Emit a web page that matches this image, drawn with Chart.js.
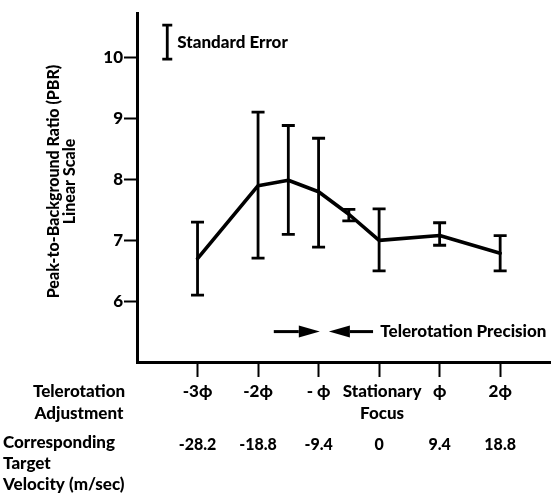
<!DOCTYPE html>
<html>
<head>
<meta charset="utf-8">
<script src="https://cdn.jsdelivr.net/npm/chart.js@4.4.1/dist/chart.umd.min.js"></script>
<style>
    html, body { margin: 0; padding: 0; background: #fff; }
    #pbrChart { display: block; }
</style>
</head>
<body>
<canvas id="pbrChart" width="551" height="502"></canvas>
<script>
// telerotation adjustment (in units of phi) and mean PBR with standard error limits
const adjustSteps = [-3, -2, -1.5, -1, -0.5, 0, 1, 2];
const pbrMeans = [6.70, 7.90, 7.99, 7.80, 7.43, 7.00, 7.08, 6.79];
const errUpper = [7.30, 9.11, 8.89, 8.68, 7.51, 7.52, 7.29, 7.08];
const errLower = [6.10, 6.71, 7.10, 6.89, 7.32, 6.50, 6.92, 6.50];

const adjustTicks = [-3, -2, -1, 0, 1, 2];
const adjustLabels = [['-3\u03D5'], ['-2\u03D5'], ['- \u03D5'], ['Stationary', 'Focus'], ['\u03D5'], ['2\u03D5']];
const velocityLabels = ['-28.2', '-18.8', '-9.4', '0', '9.4', '18.8'];
const pbrTicks = [6, 7, 8, 9, 10];

const FONT = "Lato, 'DejaVu Sans', sans-serif";
const INK = '#000';

// vertical bars with caps for the standard error
const errorBars = {
    id: 'errorBars',
    afterDatasetsDraw(chart) {
        const { ctx, scales: { x, y } } = chart;
        ctx.save();
        ctx.strokeStyle = INK;
        ctx.lineWidth = 2.8;
        adjustSteps.forEach((step, i) => {
            const px = x.getPixelForValue(step);
            const top = y.getPixelForValue(errUpper[i]);
            const bot = y.getPixelForValue(errLower[i]);
            ctx.beginPath();
            ctx.moveTo(px, top);
            ctx.lineTo(px, bot);
            ctx.moveTo(px - 6.5, top);
            ctx.lineTo(px + 6.5, top);
            ctx.moveTo(px - 6.5, bot);
            ctx.lineTo(px + 6.5, bot);
            ctx.stroke();
        });
        ctx.restore();
    }
};

function drawArrow(ctx, fromX, toX, py) {
    const dir = Math.sign(toX - fromX);
    const headLen = 21;
    ctx.beginPath();
    ctx.moveTo(fromX, py);
    ctx.lineTo(toX - dir * headLen, py);
    ctx.stroke();
    ctx.beginPath();
    ctx.moveTo(toX, py);
    ctx.lineTo(toX - dir * headLen, py - 6);
    ctx.lineTo(toX - dir * headLen, py + 6);
    ctx.closePath();
    ctx.fill();
}

// key, precision arrows, axis titles and the two label rows under the axis
const annotations = {
    id: 'annotations',
    afterDraw(chart) {
        const { ctx, chartArea, scales: { x, y } } = chart;
        ctx.save();
        ctx.fillStyle = INK;
        ctx.strokeStyle = INK;

        // standard error key
        const kx = x.getPixelForValue(-3.5);
        const kTop = y.getPixelForValue(10.54);
        const kBot = y.getPixelForValue(9.98);
        ctx.lineWidth = 2.8;
        ctx.beginPath();
        ctx.moveTo(kx, kTop); ctx.lineTo(kx, kBot);
        ctx.moveTo(kx - 5, kTop); ctx.lineTo(kx + 5, kTop);
        ctx.moveTo(kx - 5, kBot); ctx.lineTo(kx + 5, kBot);
        ctx.stroke();
        ctx.font = `900 17px ${FONT}`;
        ctx.textAlign = 'left';
        ctx.textBaseline = 'middle';
        ctx.fillText('Standard Error', kx + 10, (kTop + kBot) / 2);

        // telerotation precision arrows
        const ay = y.getPixelForValue(5.5);
        ctx.lineWidth = 3;
        drawArrow(ctx, x.getPixelForValue(-1.74), x.getPixelForValue(-0.98), ay);
        drawArrow(ctx, x.getPixelForValue(-0.10), x.getPixelForValue(-0.83), ay);
        ctx.fillText('Telerotation Precision', x.getPixelForValue(0.02), ay);

        // y axis title, two rotated lines
        ctx.save();
        ctx.translate(54, (chartArea.top + chartArea.bottom) / 2 - 6);
        ctx.rotate(-Math.PI / 2);
        ctx.textAlign = 'center';
        ctx.font = `900 16px ${FONT}`;
        ctx.fillText('Peak-to-Background Ratio (PBR)', 0, 0);
        ctx.fillText('Linear Scale', 0, 16);
        ctx.restore();

        // label rows below the x axis
        const base = chartArea.bottom;
        ctx.font = `900 17px ${FONT}`;
        ctx.textBaseline = 'alphabetic';
        ctx.textAlign = 'center';
        ctx.fillText('Telerotation', 79, base + 35);
        ctx.fillText('Adjustment', 79, base + 57);
        ctx.textAlign = 'left';
        ctx.fillText('Corresponding', 3, base + 86);
        ctx.fillText('Target', 3, base + 107);
        ctx.fillText('Velocity (m/sec)', 3, base + 128);

        ctx.textAlign = 'center';
        adjustTicks.forEach((v, i) => {
            const px = x.getPixelForValue(v);
            adjustLabels[i].forEach((line, j) => {
                ctx.fillText(line, px + (v === 0 ? 3 : 0), base + 35 + j * 22);
            });
        });
        ctx.font = `900 16px ${FONT}`;
        adjustTicks.forEach((v, i) => {
            ctx.fillText(velocityLabels[i], x.getPixelForValue(v), base + 88);
        });
        ctx.restore();
    }
};

new Chart(document.getElementById('pbrChart'), {
    type: 'scatter',
    data: {
        datasets: [{
            data: adjustSteps.map((s, i) => ({ x: s, y: pbrMeans[i] })),
            showLine: true,
            borderColor: INK,
            borderWidth: 3.6,
            borderJoinStyle: 'round',
            borderCapStyle: 'round',
            pointRadius: 0,
            tension: 0
        }]
    },
    options: {
        responsive: false,
        animation: false,
        devicePixelRatio: 1,
        layout: { padding: { top: 13, right: 0, bottom: 0, left: 0 } },
        plugins: {
            legend: { display: false },
            tooltip: { enabled: false }
        },
        scales: {
            x: {
                type: 'linear',
                min: -4,
                max: 2.84,
                afterBuildTicks: scale => { scale.ticks = adjustTicks.map(v => ({ value: v })); },
                afterFit: scale => { scale.height = 140; },
                ticks: { display: false },
                grid: { drawOnChartArea: false, drawTicks: true, tickLength: 15, tickWidth: 2, tickColor: INK },
                border: { display: true, width: 3, color: INK }
            },
            y: {
                type: 'linear',
                min: 5,
                max: 10.74,
                afterBuildTicks: scale => { scale.ticks = pbrTicks.map(v => ({ value: v })); },
                afterFit: scale => { scale.width = 137; },
                ticks: { color: INK, padding: 1, font: { family: FONT, size: 17, weight: '900' } },
                grid: { drawOnChartArea: false, drawTicks: true, tickLength: 13, tickWidth: 2, tickColor: INK },
                border: { display: true, width: 3, color: INK }
            }
        }
    },
    plugins: [errorBars, annotations]
});
</script>
</body>
</html>
